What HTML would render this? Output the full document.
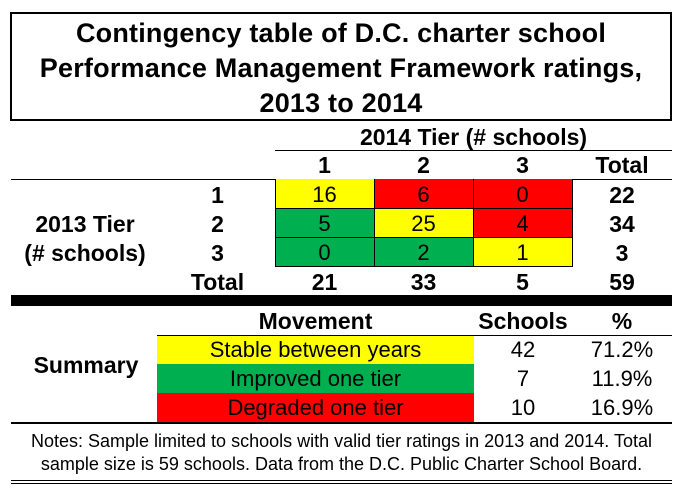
<!DOCTYPE html>
<html>
<head>
<meta charset="utf-8">
<style>
  html, body { margin:0; padding:0; }
  body { width:684px; height:493px; background:#fff; position:relative; overflow:hidden;
         font-family:"Liberation Sans", Arial, sans-serif; color:#000; }
  .a { position:absolute; }
  .t { position:absolute; white-space:nowrap; line-height:1; text-align:center; }
  .b { font-weight:bold; font-size:23px; }
  .r { font-weight:normal; font-size:22px; }
  .ln { position:absolute; background:#000; }
  .Y { background:#FFFF00; }
  .R { background:#FF0000; }
  .G { background:#00B050; }
</style>
</head>
<body>
<!-- Title box -->
<div class="a" style="left:10px;top:12px;width:662px;height:109px;border:2px solid #000;box-sizing:border-box;"></div>
<div class="a" style="left:10px;top:16px;width:662px;text-align:center;font-weight:bold;font-size:27px;line-height:35px;letter-spacing:0.2px;white-space:nowrap;">Contingency table of D.C. charter school<br>Performance Management Framework ratings,<br>2013 to 2014</div>

<!-- 2014 Tier header -->
<div class="t b" style="left:273.5px;top:125.5px;width:400px;">2014 Tier (# schools)</div>
<div class="ln" style="left:275px;top:150px;width:397px;height:1px;"></div>

<!-- column headers -->
<div class="t b" style="left:274.5px;top:153.5px;width:100px;">1</div>
<div class="t b" style="left:373.5px;top:153.5px;width:100px;">2</div>
<div class="t b" style="left:472.5px;top:153.5px;width:100px;">3</div>
<div class="t b" style="left:572px;top:153.5px;width:100px;">Total</div>
<div class="ln" style="left:11px;top:179px;width:661px;height:1px;"></div>

<!-- matrix fills -->
<div class="a Y" style="left:275px;top:179px;width:99px;height:29px;"></div>
<div class="a R" style="left:374px;top:179px;width:99px;height:29px;"></div>
<div class="a R" style="left:473px;top:179px;width:99px;height:29px;"></div>
<div class="a G" style="left:275px;top:208px;width:99px;height:29px;"></div>
<div class="a Y" style="left:374px;top:208px;width:99px;height:29px;"></div>
<div class="a R" style="left:473px;top:208px;width:99px;height:29px;"></div>
<div class="a G" style="left:275px;top:237px;width:99px;height:29px;"></div>
<div class="a G" style="left:374px;top:237px;width:99px;height:29px;"></div>
<div class="a Y" style="left:473px;top:237px;width:99px;height:29px;"></div>
<!-- matrix grid -->
<div class="ln" style="left:275px;top:179px;width:1px;height:88px;"></div>
<div class="ln" style="left:374px;top:179px;width:1px;height:88px;"></div>
<div class="ln" style="left:473px;top:179px;width:1px;height:88px;"></div>
<div class="ln" style="left:572px;top:179px;width:1px;height:88px;"></div>
<div class="ln" style="left:275px;top:208px;width:298px;height:1px;"></div>
<div class="ln" style="left:275px;top:237px;width:298px;height:1px;"></div>
<div class="ln" style="left:275px;top:266px;width:298px;height:1px;"></div>

<!-- matrix numbers -->
<div class="t r" style="left:274.5px;top:184.4px;width:100px;">16</div>
<div class="t r" style="left:373.5px;top:184.4px;width:100px;">6</div>
<div class="t r" style="left:472.5px;top:184.4px;width:100px;">0</div>
<div class="t r" style="left:274.5px;top:213.4px;width:100px;">5</div>
<div class="t r" style="left:373.5px;top:213.4px;width:100px;">25</div>
<div class="t r" style="left:472.5px;top:213.4px;width:100px;">4</div>
<div class="t r" style="left:274.5px;top:242.4px;width:100px;">0</div>
<div class="t r" style="left:373.5px;top:242.4px;width:100px;">2</div>
<div class="t r" style="left:472.5px;top:242.4px;width:100px;">1</div>

<!-- row labels -->
<div class="t b" style="left:167.5px;top:183.5px;width:100px;">1</div>
<div class="t b" style="left:167.5px;top:212.5px;width:100px;">2</div>
<div class="t b" style="left:167.5px;top:241.5px;width:100px;">3</div>
<div class="t b" style="left:167.5px;top:270.5px;width:100px;">Total</div>

<!-- total column -->
<div class="t b" style="left:572px;top:183.5px;width:100px;">22</div>
<div class="t b" style="left:572px;top:212.5px;width:100px;">34</div>
<div class="t b" style="left:572px;top:241.5px;width:100px;">3</div>
<!-- total row -->
<div class="t b" style="left:274.5px;top:270.5px;width:100px;">21</div>
<div class="t b" style="left:373.5px;top:270.5px;width:100px;">33</div>
<div class="t b" style="left:472.5px;top:270.5px;width:100px;">5</div>
<div class="t b" style="left:572px;top:270.5px;width:100px;">59</div>

<!-- 2013 tier label -->
<div class="t b" style="left:10px;top:212.5px;width:150px;">2013 Tier</div>
<div class="t b" style="left:10px;top:241.5px;width:150px;">(# schools)</div>

<!-- thick separator -->
<div class="ln" style="left:11px;top:295px;width:661px;height:11px;"></div>

<!-- summary header -->
<div class="t b" style="left:215.5px;top:309.5px;width:200px;">Movement</div>
<div class="t b" style="left:473px;top:309.5px;width:100px;">Schools</div>
<div class="t b" style="left:572px;top:309.5px;width:100px;">%</div>
<div class="ln" style="left:157px;top:335px;width:515px;height:1px;"></div>

<!-- summary fills -->
<div class="a Y" style="left:157px;top:336px;width:317px;height:28px;"></div>
<div class="a G" style="left:157px;top:364px;width:317px;height:29px;"></div>
<div class="a R" style="left:157px;top:393px;width:317px;height:29px;"></div>

<div class="t r" style="left:165.5px;top:339.4px;width:300px;">Stable between years</div>
<div class="t r" style="left:165.5px;top:368.4px;width:300px;">Improved one tier</div>
<div class="t r" style="left:165.5px;top:397.4px;width:300px;">Degraded one tier</div>

<div class="t r" style="left:473px;top:339.4px;width:100px;">42</div>
<div class="t r" style="left:473px;top:368.4px;width:100px;">7</div>
<div class="t r" style="left:473px;top:397.4px;width:100px;">10</div>

<div class="t r" style="left:572px;top:339.4px;width:100px;">71.2%</div>
<div class="t r" style="left:572px;top:368.4px;width:100px;">11.9%</div>
<div class="t r" style="left:572px;top:397.4px;width:100px;">16.9%</div>

<div class="t b" style="left:11px;top:353.5px;width:150px;">Summary</div>

<div class="ln" style="left:11px;top:422px;width:661px;height:2px;"></div>

<!-- notes -->
<div class="t" style="left:11px;top:431.8px;width:661px;font-size:18px;">Notes: Sample limited to schools with valid tier ratings in 2013 and 2014. Total</div>
<div class="t" style="left:11px;top:454.8px;width:661px;font-size:18px;">sample size is 59 schools. Data from the D.C. Public Charter School Board.</div>

<div class="ln" style="left:11px;top:480px;width:661px;height:1px;"></div>
<div class="ln" style="left:11px;top:483px;width:661px;height:1px;"></div>
</body>
</html>
